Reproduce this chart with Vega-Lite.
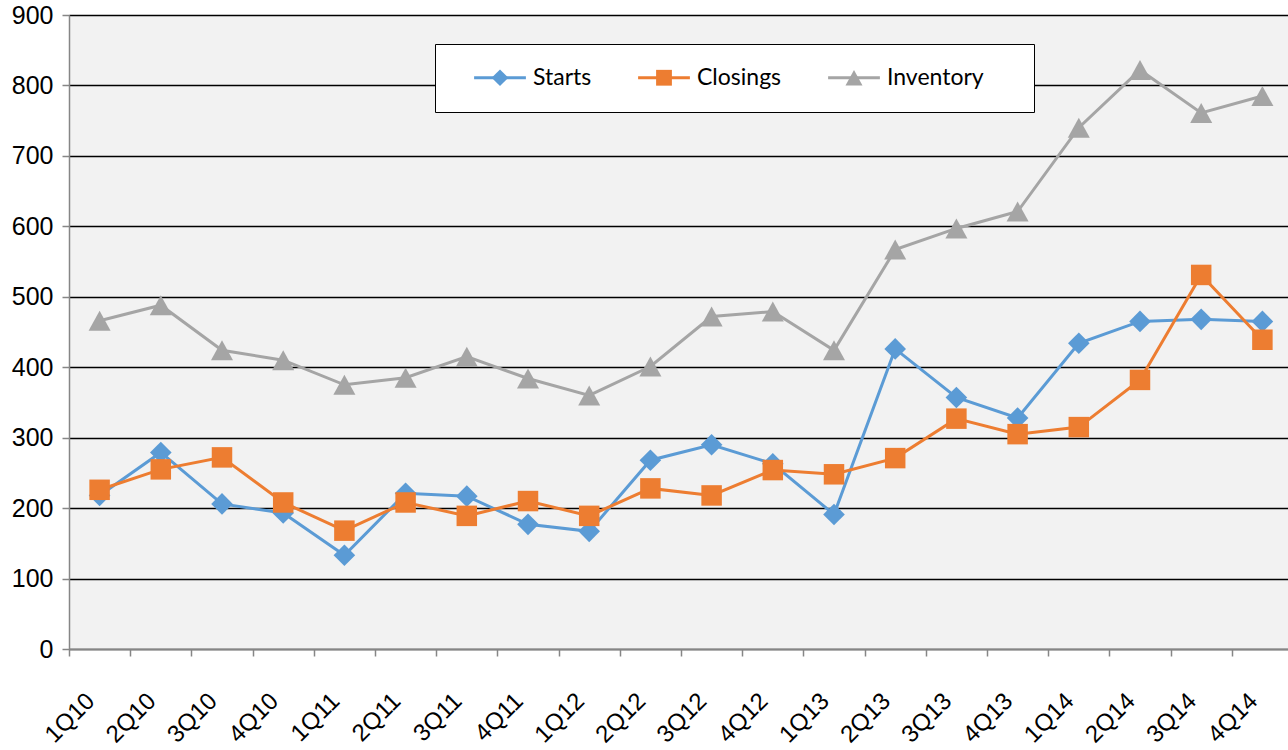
{
  "$schema": "https://vega.github.io/schema/vega-lite/v6.json",
  "width": 1219,
  "height": 634,
  "autosize": {"type": "none"},
  "padding": {"left": 69, "top": 15, "right": 0, "bottom": 101},
  "background": "white",
  "config": {"view": {"fill": "#f2f2f2", "stroke": null}, "font": "Liberation Sans"},
  "data": {"values": [
    {"q": "1Q10", "series": "Starts", "v": 218}, {"q": "2Q10", "series": "Starts", "v": 279}, {"q": "3Q10", "series": "Starts", "v": 206}, {"q": "4Q10", "series": "Starts", "v": 193},
    {"q": "1Q11", "series": "Starts", "v": 133}, {"q": "2Q11", "series": "Starts", "v": 221}, {"q": "3Q11", "series": "Starts", "v": 217}, {"q": "4Q11", "series": "Starts", "v": 177},
    {"q": "1Q12", "series": "Starts", "v": 167}, {"q": "2Q12", "series": "Starts", "v": 268}, {"q": "3Q12", "series": "Starts", "v": 290}, {"q": "4Q12", "series": "Starts", "v": 263},
    {"q": "1Q13", "series": "Starts", "v": 191}, {"q": "2Q13", "series": "Starts", "v": 426}, {"q": "3Q13", "series": "Starts", "v": 357}, {"q": "4Q13", "series": "Starts", "v": 328},
    {"q": "1Q14", "series": "Starts", "v": 434}, {"q": "2Q14", "series": "Starts", "v": 465}, {"q": "3Q14", "series": "Starts", "v": 468}, {"q": "4Q14", "series": "Starts", "v": 465},
    {"q": "1Q10", "series": "Closings", "v": 226}, {"q": "2Q10", "series": "Closings", "v": 255}, {"q": "3Q10", "series": "Closings", "v": 272}, {"q": "4Q10", "series": "Closings", "v": 208},
    {"q": "1Q11", "series": "Closings", "v": 168}, {"q": "2Q11", "series": "Closings", "v": 208}, {"q": "3Q11", "series": "Closings", "v": 189}, {"q": "4Q11", "series": "Closings", "v": 210},
    {"q": "1Q12", "series": "Closings", "v": 189}, {"q": "2Q12", "series": "Closings", "v": 228}, {"q": "3Q12", "series": "Closings", "v": 218}, {"q": "4Q12", "series": "Closings", "v": 254},
    {"q": "1Q13", "series": "Closings", "v": 248}, {"q": "2Q13", "series": "Closings", "v": 271}, {"q": "3Q13", "series": "Closings", "v": 327}, {"q": "4Q13", "series": "Closings", "v": 305},
    {"q": "1Q14", "series": "Closings", "v": 315}, {"q": "2Q14", "series": "Closings", "v": 382}, {"q": "3Q14", "series": "Closings", "v": 531}, {"q": "4Q14", "series": "Closings", "v": 439},
    {"q": "1Q10", "series": "Inventory", "v": 466}, {"q": "2Q10", "series": "Inventory", "v": 488}, {"q": "3Q10", "series": "Inventory", "v": 424}, {"q": "4Q10", "series": "Inventory", "v": 410},
    {"q": "1Q11", "series": "Inventory", "v": 375}, {"q": "2Q11", "series": "Inventory", "v": 385}, {"q": "3Q11", "series": "Inventory", "v": 415}, {"q": "4Q11", "series": "Inventory", "v": 384},
    {"q": "1Q12", "series": "Inventory", "v": 360}, {"q": "2Q12", "series": "Inventory", "v": 401}, {"q": "3Q12", "series": "Inventory", "v": 472}, {"q": "4Q12", "series": "Inventory", "v": 479},
    {"q": "1Q13", "series": "Inventory", "v": 424}, {"q": "2Q13", "series": "Inventory", "v": 567}, {"q": "3Q13", "series": "Inventory", "v": 597}, {"q": "4Q13", "series": "Inventory", "v": 621},
    {"q": "1Q14", "series": "Inventory", "v": 740}, {"q": "2Q14", "series": "Inventory", "v": 822}, {"q": "3Q14", "series": "Inventory", "v": 761}, {"q": "4Q14", "series": "Inventory", "v": 785}
  ]},
  "encoding": {
    "x": {
      "field": "q", "type": "nominal", "sort": null,
      "scale": {"type": "band", "range": [0, 1224], "paddingInner": 0, "paddingOuter": 0},
      "axis": {
        "title": null, "labelAngle": -45, "labelAlign": "right", "labelBaseline": "middle",
        "labelFontSize": 24, "labelColor": "black", "labelFont": "Liberation Sans",
        "tickBand": "extent", "tickSize": 7, "tickColor": "#868686", "tickWidth": 1.5,
        "domainColor": "#868686", "domainWidth": 1.5, "labelPadding": 41, "labelOffset": -9, "grid": false
      }
    },
    "y": {
      "field": "v", "type": "quantitative",
      "scale": {"domain": [0, 900], "nice": false},
      "axis": {
        "title": null, "values": [0, 100, 200, 300, 400, 500, 600, 700, 800, 900],
        "grid": true, "gridColor": "black", "gridWidth": 1.4,
        "domainColor": "#868686", "domainWidth": 1.5, "tickColor": "#868686", "tickSize": 7, "tickWidth": 1.5,
        "labelFontSize": 25, "labelColor": "black", "labelFont": "Liberation Sans", "labelPadding": 9
      }
    }
  },
  "layer": [
    {
      "mark": {"type": "line", "strokeWidth": 3},
      "encoding": {
        "stroke": {
          "field": "series", "type": "nominal",
          "scale": {"domain": ["Starts", "Closings", "Inventory"], "range": ["#5b9bd5", "#ed7d31", "#a5a5a5"]},
          "legend": {
            "orient": "none", "legendX": 366, "legendY": 29, "direction": "horizontal",
            "title": "MM", "titleOrient": "right", "titleOpacity": 0, "titleFont": "Lato", "titleFontSize": 12, "titlePadding": 5,
            "padding": 22, "fillColor": "white", "strokeColor": "black",
            "symbolType": "M-3.2,0H3.2", "symbolSize": 262, "symbolStrokeWidth": 3, "symbolOffset": 31.5,
            "labelOffset": 21.5, "columnPadding": 29,
            "labelFont": "Lato", "labelFontSize": 23, "labelColor": "black"
          }
        }
      }
    },
    {
      "mark": {"type": "point", "filled": true, "opacity": 1, "size": 441},
      "encoding": {
        "fill": {
          "field": "series", "type": "nominal", "sort": {"field": "v", "op": "min"},
          "scale": {"range": ["#5b9bd5", "#ed7d31", "#a5a5a5"]},
          "legend": {
            "orient": "none", "legendX": 366, "legendY": 29, "direction": "horizontal", "title": null,
            "padding": 22, "symbolSize": 262, "symbolOffset": 31.5,
            "symbolStrokeColor": "black", "symbolStrokeWidth": 1.5,
            "labelOffset": 21.5, "columnPadding": 29,
            "labelFont": "Lato", "labelFontSize": 23, "labelColor": "black", "labelOpacity": 0
          }
        },
        "shape": {
          "field": "series", "type": "nominal", "sort": {"field": "v", "op": "min"},
          "scale": {"range": [
            "M-3.2,0M3.2,0M-1.03,0L0,-1.03L1.03,0L0,1.03Z",
            "M-3.2,0M3.2,0M-0.976,-0.976H0.976V0.976H-0.976Z",
            "M-3.2,0M3.2,0M0,-0.95L1.05,0.95H-1.05Z"
          ]},
          "legend": {
            "orient": "none", "legendX": 366, "legendY": 29, "direction": "horizontal", "title": null,
            "padding": 22, "symbolSize": 262, "symbolOffset": 31.5,
            "symbolStrokeColor": "black", "symbolStrokeWidth": 1.5,
            "labelOffset": 21.5, "columnPadding": 29,
            "labelFont": "Lato", "labelFontSize": 23, "labelColor": "black", "labelOpacity": 0
          }
        }
      }
    }
  ]
}
